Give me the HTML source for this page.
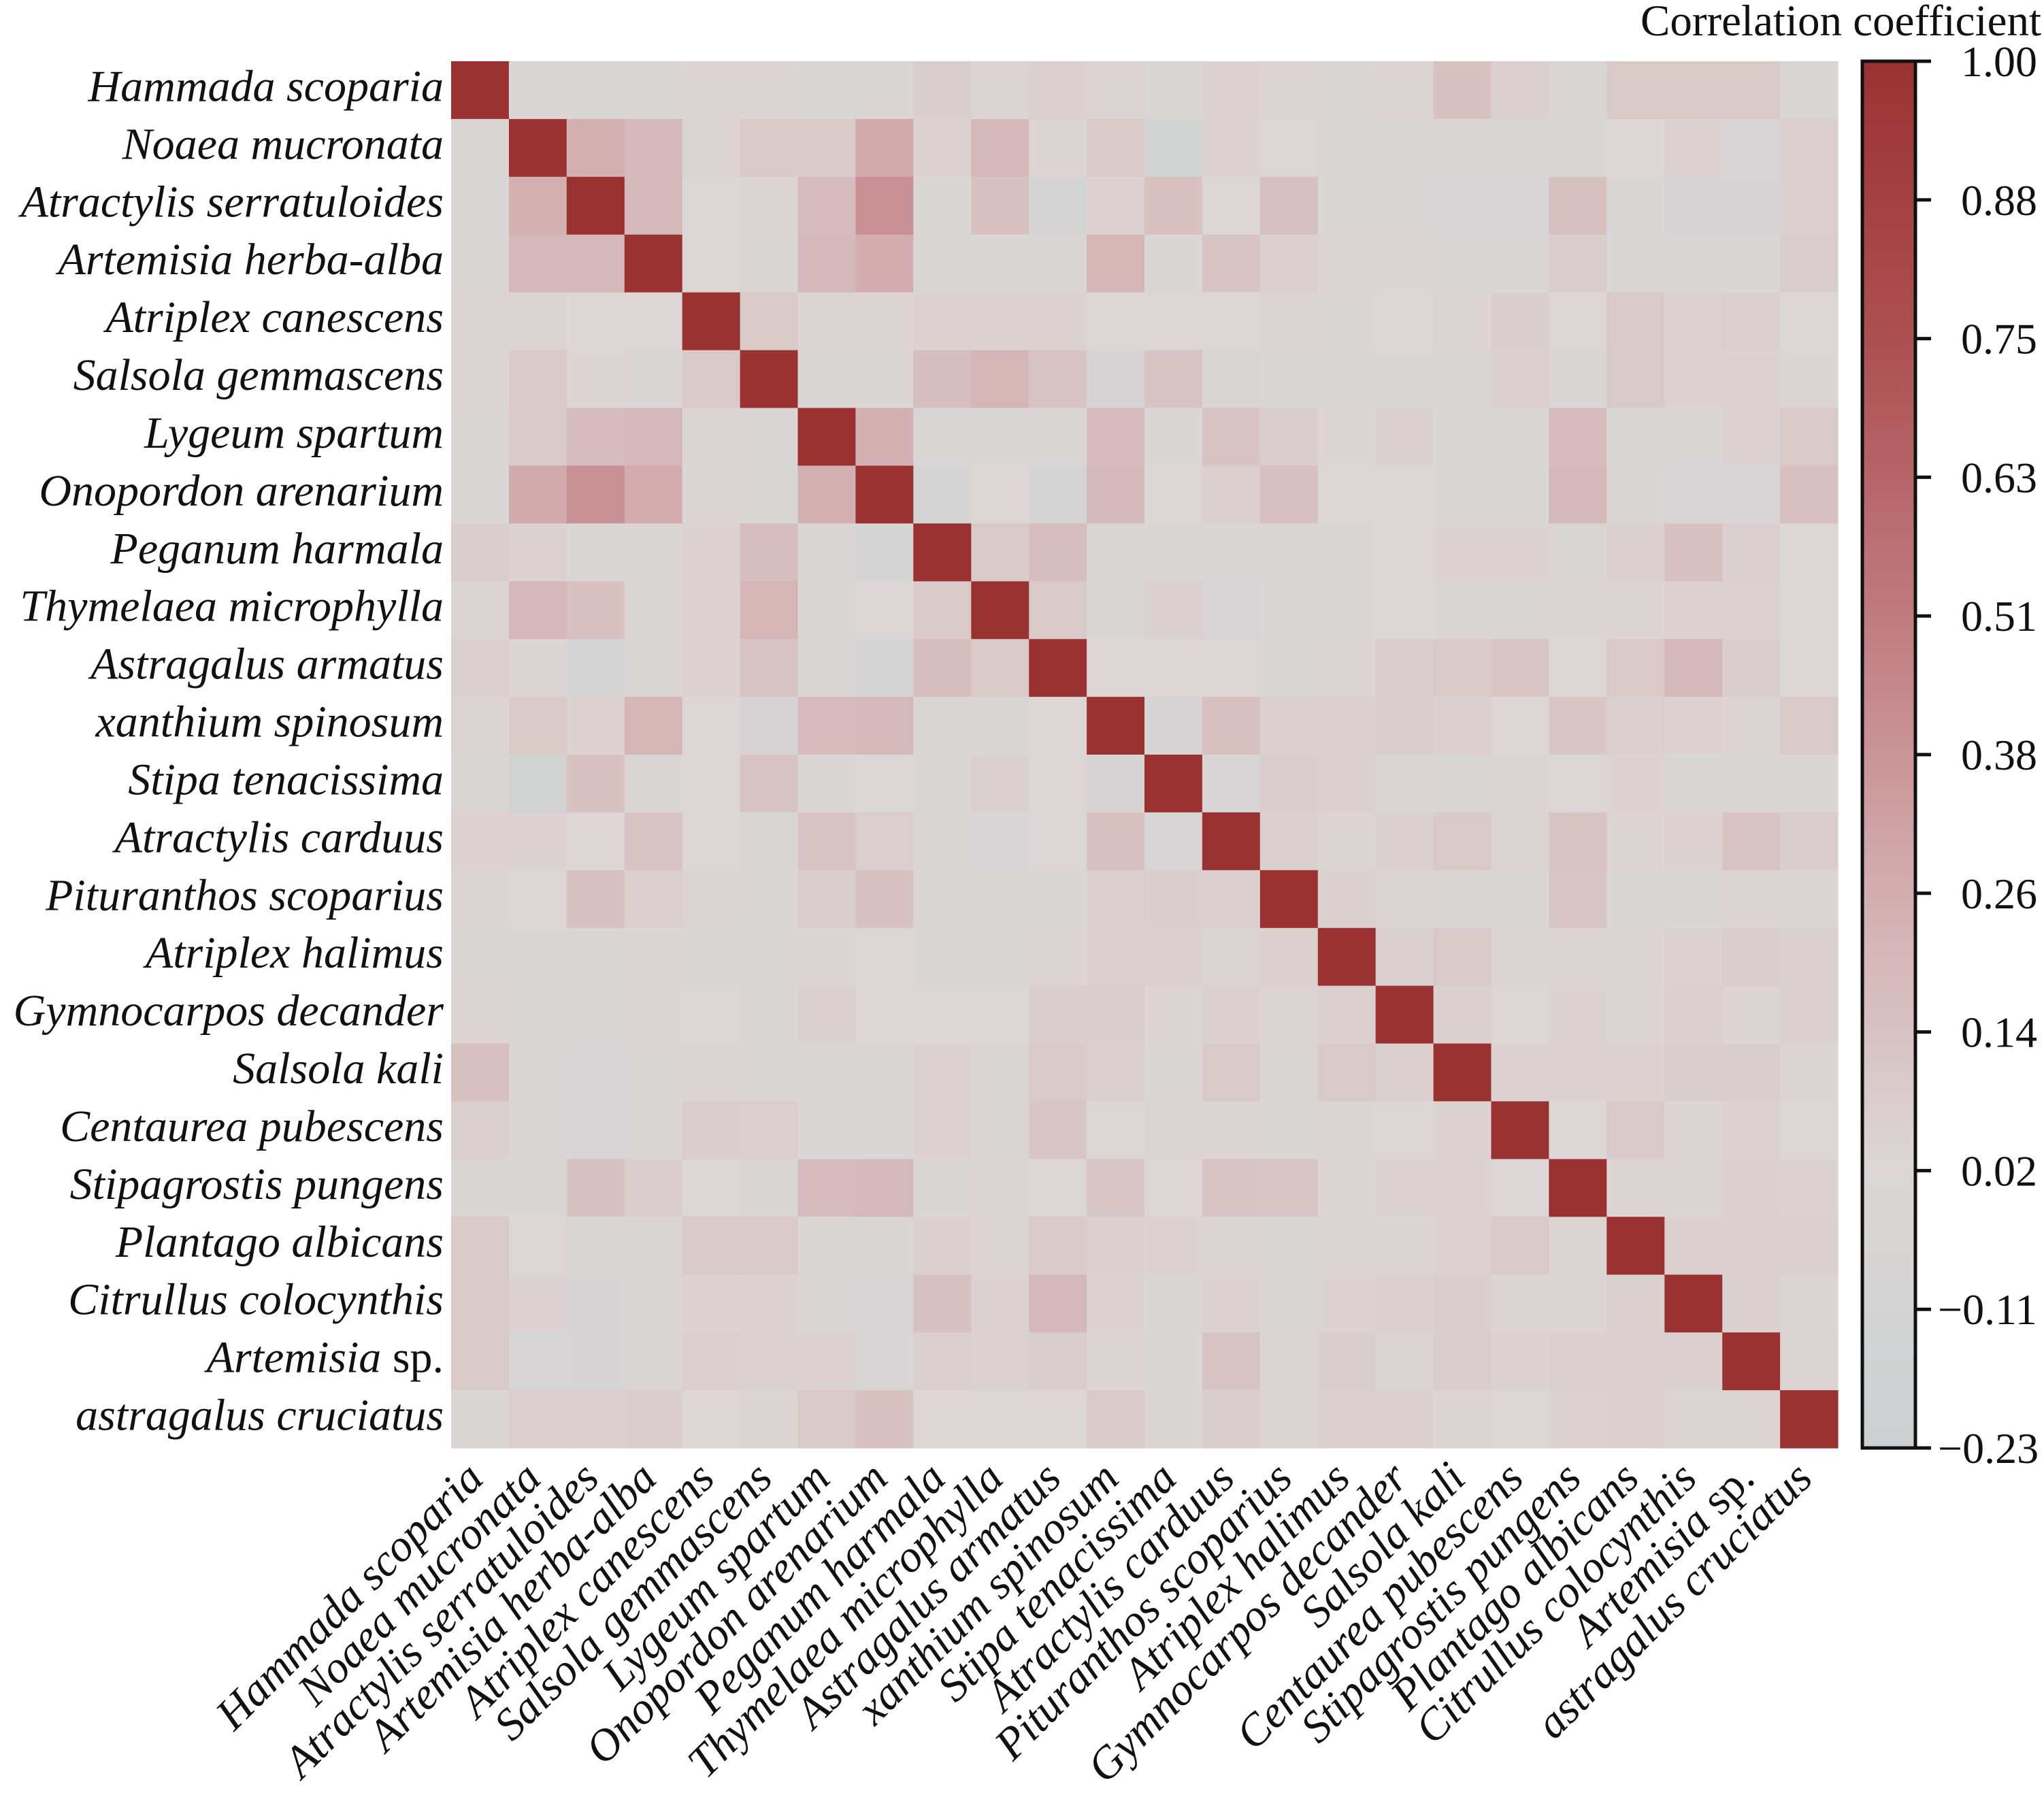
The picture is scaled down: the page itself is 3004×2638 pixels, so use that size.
<!DOCTYPE html>
<html><head><meta charset="utf-8"><style>
html,body{margin:0;padding:0;background:#fff;}
svg{display:block;font-family:"Liberation Serif",serif;}
</style></head><body>
<svg id="s" width="3004" height="2638" viewBox="0 0 3004 2638" xmlns="http://www.w3.org/2000/svg">
<defs>
<linearGradient id="cb" x1="0" y1="1" x2="0" y2="0">
<stop offset="0" stop-color="#cbd0d1"/>
<stop offset="0.2" stop-color="#dcd7d6"/>
<stop offset="0.4" stop-color="#d3aeb0"/>
<stop offset="0.6" stop-color="#c07b7f"/>
<stop offset="0.8" stop-color="#ac4f53"/>
<stop offset="1" stop-color="#9b3232"/>
</linearGradient>
</defs>
<g id="cells"></g>
<g id="labels" font-style="italic" font-size="66" fill="#111"></g>
<rect x="2737" y="90" width="78" height="2038" fill="url(#cb)" stroke="#111" stroke-width="5"/>
<g id="ticks" font-size="64" fill="#111"></g>
<text x="3000" y="52" font-size="65" text-anchor="end" fill="#111">Correlation coefficient</text>
</svg>
<script>
var names=["Hammada scoparia","Noaea mucronata","Atractylis serratuloides","Artemisia herba-alba","Atriplex canescens","Salsola gemmascens","Lygeum spartum","Onopordon arenarium","Peganum harmala","Thymelaea microphylla","Astragalus armatus","xanthium spinosum","Stipa tenacissima","Atractylis carduus","Pituranthos scoparius","Atriplex halimus","Gymnocarpos decander","Salsola kali","Centaurea pubescens","Stipagrostis pungens","Plantago albicans","Citrullus colocynthis","Artemisia sp.","astragalus cruciatus"];
var U=[
[0,-0.02,0,0.03,0.03,0,-0.02,0.08,0.03,0.06,0.04,0,0.05,0.03,0,0.03,0.15,0.06,0,0.1,0.1,0.1,0],
[0.25,0.2,0.04,0.1,0.1,0.28,0.05,0.2,0.03,0.1,-0.12,0.05,0.02,0,0,0,0,0,0.02,0.05,-0.05,0.07],
[0.2,0.02,0.03,0.18,0.4,-0.03,0.15,-0.1,0.05,0.15,0.02,0.15,0,0,-0.05,-0.05,0.15,0,-0.07,-0.07,0.07],
[0.02,-0.03,0.2,0.27,0,0,-0.02,0.22,-0.02,0.13,0.06,0.03,0.03,0,0,0.08,0,0,0,0.08],
[0.1,0.03,0.03,0.05,0.05,0.05,0.02,0.02,0.02,0.04,0,0.02,0.04,0.08,0.02,0.1,0.05,0.07,0.02],
[-0.03,-0.03,0.17,0.22,0.13,-0.07,0.13,-0.04,0,0,0,0,0.07,-0.03,0.1,0.05,0.05,0.03],
[0.25,0,-0.03,-0.03,0.18,0,0.13,0.08,0.03,0.06,0,0,0.18,0,0,0.05,0.1],
[-0.08,0.02,-0.1,0.2,0.02,0.07,0.15,0.02,0.02,0,0,0.2,0,-0.05,-0.05,0.15],
[0.1,0.17,0,0,0,0,0,0.02,0.05,0.05,0,0.06,0.15,0.07,0.02],
[0.1,-0.03,0.06,-0.05,0,0,0.02,0,0,0.03,0.03,0.05,0.05,0.02],
[0.02,0.02,0.02,0,0.03,0.08,0.1,0.12,0.02,0.1,0.2,0.08,0.02],
[-0.07,0.15,0.06,0.06,0.08,0.06,0.02,0.12,0.06,0.05,0.03,0.1],
[-0.05,0.08,0.06,0.03,0,0.03,0.02,0.05,0,0,0],
[0.06,0.04,0.06,0.1,0.03,0.13,0.03,0.05,0.13,0.08],
[0.06,0.03,0,0,0.12,-0.02,0,0.03,0.03],
[0.06,0.1,0.03,0.03,0.03,0.05,0.08,0.06],
[0.06,0.02,0.05,0.03,0.06,0.03,0.06],
[0.05,0.05,0.05,0.08,0.08,0.03],
[0.02,0.1,0.03,0.05,0.02],
[0.03,0.03,0.06,0.05],
[0.06,0.06,0.06],
[0.06,0.03],
[0.04]];
var N=24,M=[];for(var i=0;i<N;i++){M.push([]);for(var j=0;j<N;j++)M[i].push(1);}
for(var i=0;i<N-1;i++)for(var k=0;k<U[i].length;k++){var j=i+1+k;M[i][j]=M[j][i]=U[i][k];}
var stops=[[-0.23,[203,208,209]],[0.02,[220,215,214]],[0.26,[211,174,176]],[0.51,[192,123,127]],[0.75,[172,79,83]],[1,[155,50,50]]];
function col(v){for(var s=0;s<stops.length-1;s++){var a=stops[s],b=stops[s+1];if(v<=b[0]){var t=Math.max(0,(v-a[0])/(b[0]-a[0]));var c=a[1].map(function(x,q){return Math.round(x+(b[1][q]-x)*t)});return "rgb("+c.join(",")+")";}}return "rgb(155,50,50)";}
var x0=663,y0=90,cs=2038/24,h="";
for(var i=0;i<N;i++)for(var j=0;j<N;j++)h+='<rect x="'+(x0+j*cs).toFixed(1)+'" y="'+(y0+i*cs).toFixed(1)+'" width="'+(cs+0.6).toFixed(1)+'" height="'+(cs+0.6).toFixed(1)+'" fill="'+col(M[i][j])+'"/>';
document.getElementById("cells").innerHTML=h;
function lab(n){if(n=="Artemisia sp.")return 'Artemisia<tspan font-style="normal"> sp.</tspan>';return n;}
var l="";
for(var i=0;i<N;i++){var cy=y0+(i+0.5)*cs;l+='<text x="652" y="'+(cy+16).toFixed(1)+'" text-anchor="end">'+lab(names[i])+'</text>';}
for(var j=0;j<N;j++){var cx=x0+(j+0.5)*cs+8;var yy=2176;l+='<text x="'+cx.toFixed(1)+'" y="'+yy+'" text-anchor="end" transform="rotate(-45 '+cx.toFixed(1)+' '+yy+')">'+lab(names[j])+'</text>';}
document.getElementById("labels").innerHTML=l;
var tv=["1.00","0.88","0.75","0.63","0.51","0.38","0.26","0.14","0.02","\u22120.11","\u22120.23"],t="";
for(var k=0;k<11;k++){var y=90+k*2038/10;t+='<line x1="2815" y1="'+y+'" x2="2838" y2="'+y+'" stroke="#111" stroke-width="5"/><text x="'+(tv[k][0]=="\u2212"?2848:2882)+'" y="'+(y+22)+'">'+tv[k]+'</text>';}
document.getElementById("ticks").innerHTML=t;
</script>
</body></html>
